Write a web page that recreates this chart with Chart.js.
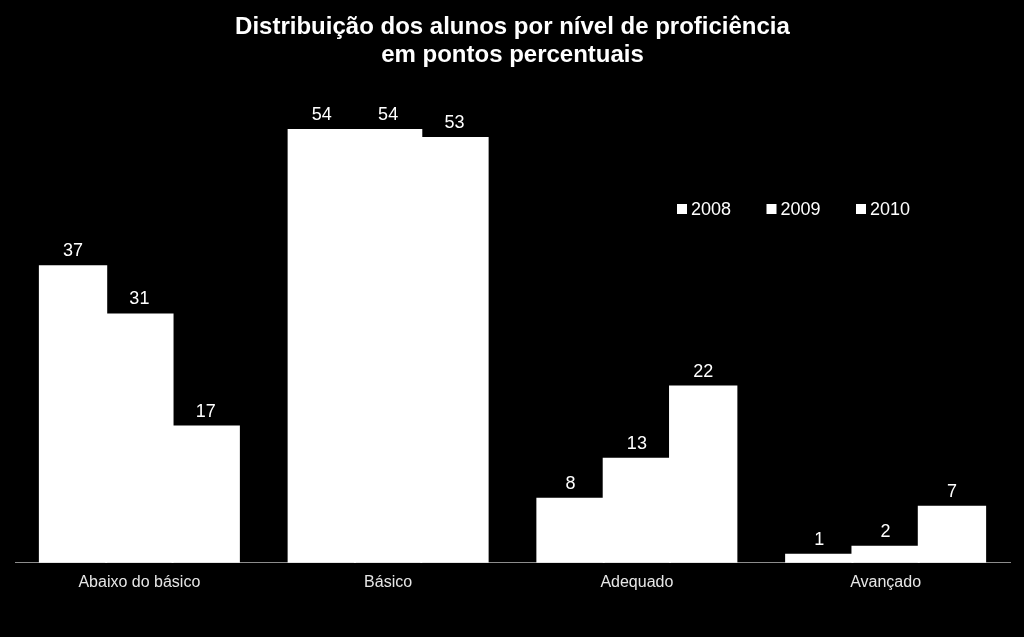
<!DOCTYPE html>
<html>
<head>
<meta charset="utf-8">
<script src="https://cdn.jsdelivr.net/npm/chart.js@4.4.1/dist/chart.umd.min.js"></script>
<style>
  html, body { margin: 0; padding: 0; background: #000; }
  #wrap { width: 1024px; height: 637px; }
</style>
</head>
<body>
<div id="wrap"><canvas id="c" width="1024" height="637"></canvas></div>
<script>
const categories = ["Abaixo do básico", "Básico", "Adequado", "Avançado"];
const seriesNames = ["2008", "2009", "2010"];
const values2008 = [37, 54, 8, 1];
const values2009 = [31, 54, 13, 2];
const values2010 = [17, 53, 22, 7];
const titleLines = ["Distribuição dos alunos por nível de proficiência", "em pontos percentuais"];

const FONT = "'Liberation Sans', Arial, sans-serif";

const bgPlugin = {
  id: 'bg',
  beforeDraw(chart) {
    const ctx = chart.ctx;
    ctx.save();
    ctx.fillStyle = '#000';
    ctx.fillRect(0, 0, chart.width, chart.height);
    ctx.restore();
  }
};

const labelsPlugin = {
  id: 'valueLabels',
  afterDatasetsDraw(chart) {
    const ctx = chart.ctx;
    ctx.save();
    ctx.fillStyle = '#ffffff';
    ctx.font = '18px ' + FONT;
    ctx.textAlign = 'center';
    ctx.textBaseline = 'alphabetic';
    chart.data.datasets.forEach((ds, i) => {
      const meta = chart.getDatasetMeta(i);
      meta.data.forEach((bar, j) => {
        ctx.fillText(String(ds.data[j]), bar.x, bar.y - 10);
      });
    });
    ctx.restore();
  }
};

const legendPlugin = {
  id: 'insideLegend',
  afterDraw(chart) {
    const ctx = chart.ctx;
    ctx.save();
    ctx.font = '18px ' + FONT;
    ctx.textBaseline = 'alphabetic';
    ctx.textAlign = 'left';
    let x = 677;
    chart.data.datasets.forEach((ds) => {
      ctx.fillStyle = ds.backgroundColor;
      ctx.fillRect(x, 204, 10, 10);
      ctx.fillStyle = '#ffffff';
      ctx.fillText(ds.label, x + 14, 215);
      x += 89.5;
    });
    ctx.restore();
  }
};

new Chart(document.getElementById('c'), {
  type: 'bar',
  data: {
    labels: categories,
    datasets: [
      { label: seriesNames[0], data: values2008, backgroundColor: '#ffffff' },
      { label: seriesNames[1], data: values2009, backgroundColor: '#ffffff' },
      { label: seriesNames[2], data: values2010, backgroundColor: '#ffffff' }
    ]
  },
  options: {
    responsive: false,
    animation: false,
    devicePixelRatio: 1,
    layout: { padding: { left: 15, right: 14, top: 0, bottom: 35 } },
    datasets: { bar: { categoryPercentage: 0.8, barPercentage: 1.0, borderWidth: 0, inflateAmount: 1 } },
    plugins: {
      legend: { display: false },
      tooltip: { enabled: false },
      title: {
        display: true,
        text: titleLines,
        color: '#ffffff',
        font: { family: FONT, size: 24, weight: 'bold', lineHeight: 1.167 },
        padding: { top: 13, bottom: 13 }
      }
    },
    scales: {
      x: {
        grid: { display: false, drawTicks: false },
        border: { display: true, color: '#8c8c8c', width: 1 },
        ticks: { color: '#e6e6e6', font: { family: FONT, size: 16 }, padding: 10 }
      },
      y: {
        display: false,
        min: 0,
        max: 60
      }
    }
  },
  plugins: [bgPlugin, labelsPlugin, legendPlugin]
});
</script>
</body>
</html>
